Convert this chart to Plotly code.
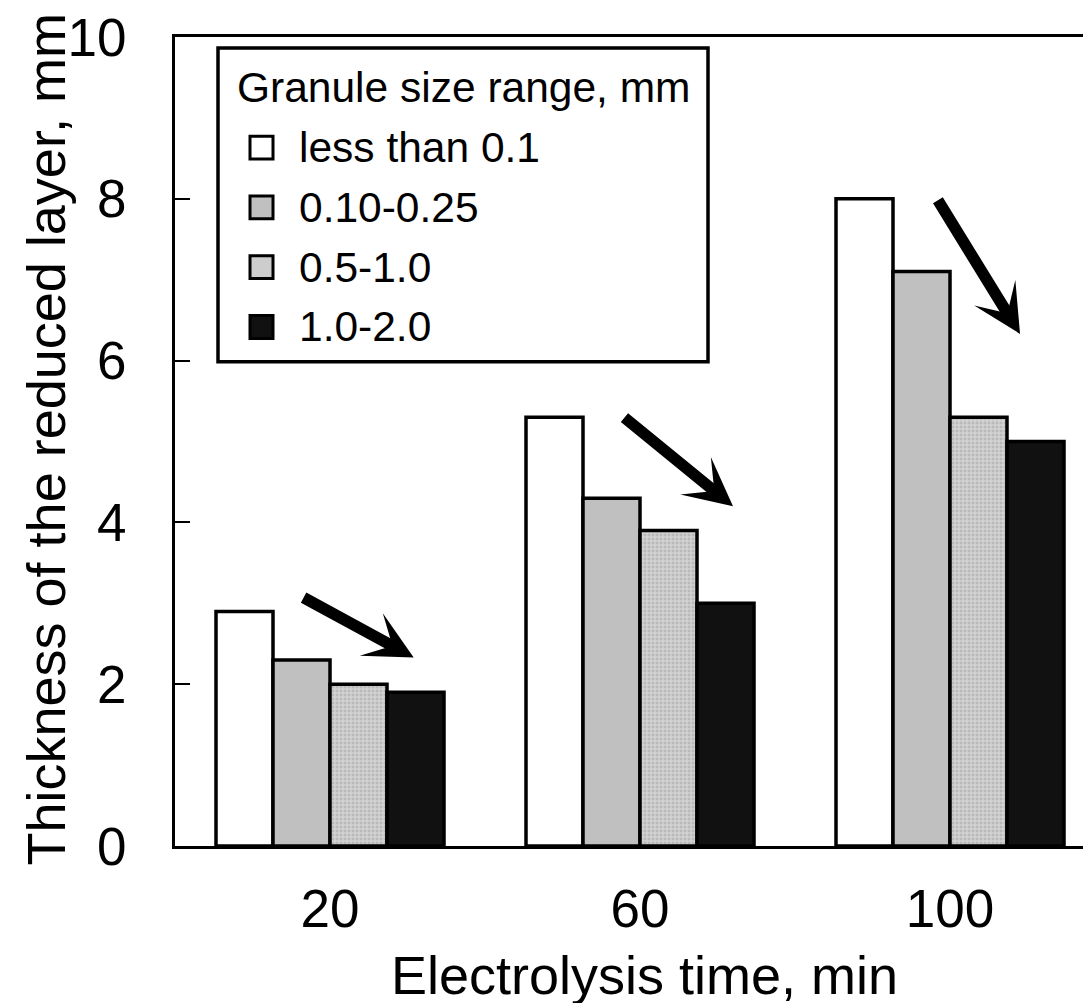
import plotly.graph_objects as go

# ---- data ----
times = ["20", "60", "100"]
series_names = ["less than 0.1", "0.10-0.25", "0.5-1.0", "1.0-2.0"]
thick_lt01 = [2.9, 5.3, 8.0]
thick_010_025 = [2.3, 4.3, 7.1]
thick_05_10 = [2.0, 3.9, 5.3]
thick_10_20 = [1.9, 3.0, 5.0]
y_ticks = [0, 2, 4, 6, 8, 10]
legend_title = "Granule size range, mm"
x_title = "Electrolysis time, min"
y_title = "Thickness of the reduced layer, mm"

FONT = "Liberation Sans, Arial, sans-serif"
OFF = 8                      # browser body margin
VW, VH = 1091, 1003          # viewport
W, H = VW - OFF, VH - OFF    # figure size so it ends at viewport edge
L, R, T, B = 175, 1091, 34, 846  # plot area box in viewport pixels

xpos = list(range(len(times)))
series_vals = [thick_lt01, thick_010_025, thick_05_10, thick_10_20]
fills = ["#ffffff", "#c0c0c0", "#cdcdcd", "#111111"]
patterns = [None, None, dict(shape=".", fgcolor="#a0a0a0", bgcolor="#d2d2d2", size=4, solidity=0.45), None]

fig = go.Figure()
for name, vals, col, pat in zip(series_names, series_vals, fills, patterns):
    marker = dict(color=col, line=dict(color="black", width=3.5))
    if pat:
        marker["pattern"] = pat
    fig.add_trace(go.Bar(x=xpos, y=vals, name=name, marker=marker, showlegend=False))

def px2paper_x(px):
    return (px - L) / (R - L)

def px2paper_y(py):
    return 1 - (py - T) / (B - T)

shapes = []
annotations = []
# legend box
shapes.append(dict(type="rect", xref="paper", yref="paper",
                   x0=px2paper_x(218), x1=px2paper_x(708), y0=px2paper_y(360), y1=px2paper_y(45),
                   line=dict(color="black", width=3.5), fillcolor="white", layer="above"))
annotations.append(dict(text=legend_title, xref="paper", yref="paper", x=px2paper_x(235), y=px2paper_y(85),
                        xanchor="left", yanchor="middle", showarrow=False,
                        font=dict(family=FONT, size=42.5, color="black")))
row_y = [145, 205, 265, 325]
for name, col, yy in zip(series_names, fills, row_y):
    shapes.append(dict(type="rect", xref="paper", yref="paper",
                       x0=px2paper_x(250), x1=px2paper_x(273), y0=px2paper_y(yy + 11.5), y1=px2paper_y(yy - 11.5),
                       line=dict(color="black", width=3), fillcolor=col, layer="above"))
    annotations.append(dict(text=name, xref="paper", yref="paper", x=px2paper_x(297), y=px2paper_y(yy),
                            xanchor="left", yanchor="middle", showarrow=False,
                            font=dict(family=FONT, size=42.5, color="black")))

# trend arrows (tail -> tip, in data coordinates)
arrows = [((-0.09, 3.08), (0.27, 2.33)),
          ((0.945, 5.31), (1.30, 4.20)),
          ((1.958, 8.00), (2.226, 6.33))]
for (tx, ty), (hx, hy) in arrows:
    annotations.append(dict(x=hx, y=hy, ax=tx, ay=ty, xref="x", yref="y", axref="x", ayref="y",
                            text="", showarrow=True, arrowhead=3, arrowsize=0.7, arrowwidth=11.5,
                            arrowcolor="black", standoff=0))

# axis titles
annotations.append(dict(text=x_title, xref="paper", yref="paper", x=px2paper_x(644), y=px2paper_y(975),
                        xanchor="center", yanchor="middle", showarrow=False,
                        font=dict(family=FONT, size=54, color="black")))
annotations.append(dict(text=y_title, xref="paper", yref="paper", x=px2paper_x(46), y=px2paper_y(438),
                        xanchor="center", yanchor="middle", showarrow=False, textangle=-90,
                        font=dict(family=FONT, size=54, color="black")))

fig.update_layout(
    width=W, height=H,
    margin=dict(l=L - OFF, r=VW - R, t=T - OFF, b=H - (B - OFF), pad=0),
    paper_bgcolor="white", plot_bgcolor="white",
    barmode="group", bargap=82 / 310, bargroupgap=0,
    font=dict(family=FONT, size=53, color="black"),
    shapes=shapes, annotations=annotations,
    showlegend=False,
)
fig.update_xaxes(
    range=[-0.5, (R - 330) / 310], tickvals=xpos, ticktext=times,
    showline=True, linecolor="black", linewidth=3, mirror=True,
    ticks="", showgrid=False, zeroline=False,
    tickfont=dict(family=FONT, size=53), ticklabelstandoff=14,
)
fig.update_yaxes(
    range=[0, 10], tickvals=y_ticks,
    showline=True, linecolor="black", linewidth=3, mirror=False,
    ticks="inside", ticklen=15, tickwidth=2, tickcolor="black",
    showgrid=False, zeroline=False, ticklabeloverflow="allow",
    tickfont=dict(family=FONT, size=53), ticklabelstandoff=35,
)

fig.write_html("out.html")
